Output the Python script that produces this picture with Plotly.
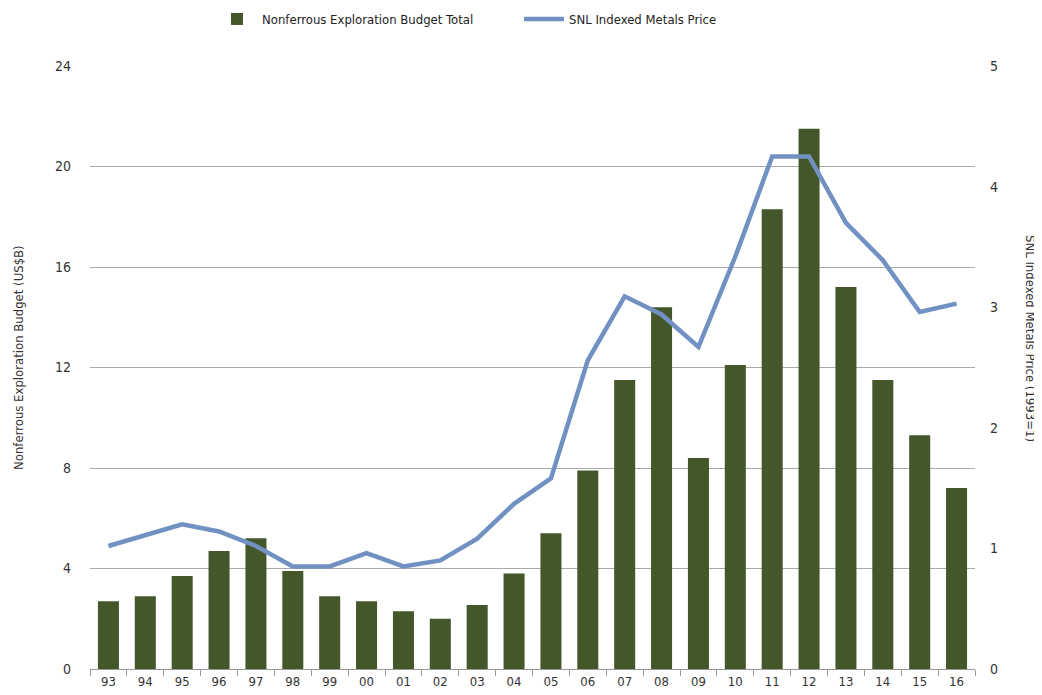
import plotly.graph_objects as go

years = ["93", "94", "95", "96", "97", "98", "99", "00", "01", "02", "03", "04",
         "05", "06", "07", "08", "09", "10", "11", "12", "13", "14", "15", "16"]
budget = [2.7, 2.9, 3.7, 4.7, 5.2, 3.9, 2.9, 2.7, 2.3, 2.0, 2.55, 3.8,
          5.4, 7.9, 11.5, 14.4, 8.4, 12.1, 18.3, 21.5, 15.2, 11.5, 9.3, 7.2]
price = [1.02, 1.11, 1.20, 1.14, 1.02, 0.85, 0.85, 0.96, 0.85, 0.90, 1.08, 1.37,
         1.58, 2.56, 3.09, 2.94, 2.67, 3.42, 4.25, 4.25, 3.70, 3.39, 2.96, 3.03]

fnt = "Liberation Sans Narrow, Arial Narrow, DejaVu Sans Condensed, sans-serif"

# page has an 8px body margin, so the figure is drawn 8px right/down
OFF = 8
W, H = 1042 - OFF, 695 - OFF
L, R, T, B = 90 - OFF, 67, 66 - OFF, 26
pw, ph = W - L - R, H - T - B


def px_x(x):
    return (x - OFF - L) / pw


def px_y(y):
    return (H - B - (y - OFF)) / ph


fig = go.Figure()
fig.add_trace(go.Bar(x=years, y=budget, name="Nonferrous Exploration Budget Total",
                     marker=dict(color="#43572A", line=dict(width=0))))
fig.add_trace(go.Scatter(x=years, y=price, name="SNL Indexed Metals Price", yaxis="y2",
                         mode="lines", line=dict(color="#7091C2", width=4.5)))

fig.update_layout(
    width=W, height=H,
    margin=dict(l=L, r=R, t=T, b=B, autoexpand=False),
    plot_bgcolor="white", paper_bgcolor="white",
    font=dict(family=fnt, size=14, color="#333333"),
    bargap=0.43,
    showlegend=True,
    legend=dict(orientation="h", x=px_x(212), xanchor="left",
                yref="container", y=1 - (19 - OFF) / H, yanchor="middle",
                font=dict(size=13, color="#222222"), itemwidth=40,
                traceorder="normal", entrywidth=252, entrywidthmode="pixels"),
    xaxis=dict(type="category", showgrid=False, showline=True, linecolor="#999999",
               linewidth=1, ticks="outside", tickson="boundaries", ticklen=6,
               tickcolor="#999999", tickfont=dict(size=13)),
    yaxis=dict(range=[0, 24], tickvals=[0, 4, 8, 12, 16, 20, 24], showgrid=True,
               gridcolor="#AAAAAA", gridwidth=1, zeroline=False, showline=False,
               ticks="", ticklabelstandoff=18, tickfont=dict(size=14)),
    yaxis2=dict(range=[0, 5], tickvals=[0, 1, 2, 3, 4, 5], overlaying="y", side="right",
                showgrid=False, zeroline=False, showline=False, ticks="",
                ticklabelstandoff=14, tickfont=dict(size=14)),
    annotations=[
        dict(text="Nonferrous Exploration Budget (US$B)", textangle=-90,
             x=px_x(18), y=px_y(358), xanchor="center", yanchor="middle",
             xref="paper", yref="paper", showarrow=False, font=dict(size=13)),
        dict(text="SNL Indexed Metals Price (1993=1)", textangle=90,
             x=px_x(1030), y=px_y(338), xanchor="center", yanchor="middle",
             xref="paper", yref="paper", showarrow=False, font=dict(size=13)),
    ],
)

fig.write_html("out.html")
